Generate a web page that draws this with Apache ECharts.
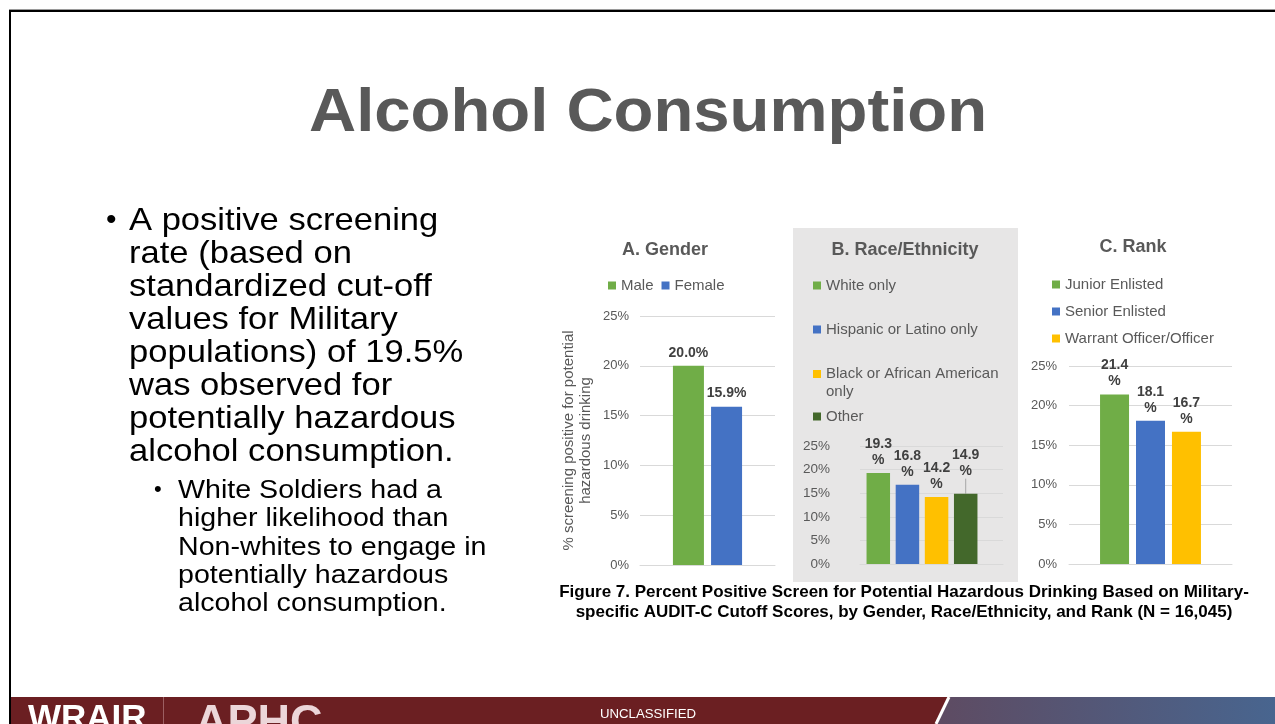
<!DOCTYPE html>
<html>
<head>
<meta charset="utf-8">
<title>Alcohol Consumption</title>
<script src="https://cdn.jsdelivr.net/npm/echarts@6/dist/echarts.min.js"></script>
<style>
  html, body { margin: 0; padding: 0; background: #fff; }
  #chart { width: 1275px; height: 724px; }
</style>
</head>
<body>
<div id="chart"></div>
<script>
// ---- data ----
const genderNames = ['Male', 'Female'];
const genderValues = [20.0, 15.9];

const raceNames = ['White only', 'Hispanic or Latino only', 'Black or African American only', 'Other'];
const raceValues = [19.3, 16.8, 14.2, 14.9];

const rankNames = ['Junior Enlisted', 'Senior Enlisted', 'Warrant Officer/Officer'];
const rankValues = [21.4, 18.1, 16.7];

const yTickMin = 0, yTickMax = 25, yTickStep = 5;

const panelTitles = ['A. Gender', 'B. Race/Ethnicity', 'C. Rank'];
const yAxisTitle = '% screening positive for potential\nhazardous drinking';

const slideTitle = 'Alcohol Consumption';
const bulletMain = [
  'A positive screening',
  'rate (based on',
  'standardized cut-off',
  'values for Military',
  'populations) of 19.5%',
  'was observed for',
  'potentially hazardous',
  'alcohol consumption.'
];
const bulletSub = [
  'White Soldiers had a',
  'higher likelihood than',
  'Non-whites to engage in',
  'potentially hazardous',
  'alcohol consumption.'
];
const captionLines = [
  'Figure 7. Percent Positive Screen for Potential Hazardous Drinking Based on Military-',
  'specific AUDIT-C Cutoff Scores, by Gender, Race/Ethnicity, and Rank (N = 16,045)'
];

// ---- styles ----
const GREEN = '#70AD47', BLUE = '#4472C4', GOLD = '#FFC000', DARKGREEN = '#43682B';
const genderColors = [GREEN, BLUE];
const raceColors = [GREEN, BLUE, GOLD, DARKGREEN];
const rankColors = [GREEN, BLUE, GOLD];
const FONT = '"Liberation Sans", Arial, sans-serif';
const AXIS_TXT = '#595959';
const GRID_LINE = '#D9D9D9';

const pct1 = p => p.value.toFixed(1) + '%';
const pctWrap = p => p.value.toFixed(1) + '\n%';

function valueAxis(gridIndex, extra) {
  return Object.assign({
    type: 'value', gridIndex,
    min: yTickMin, max: yTickMax, interval: yTickStep,
    axisLine: { show: false }, axisTick: { show: false },
    axisLabel: { formatter: '{value}%', color: AXIS_TXT, fontSize: 13, fontFamily: FONT, margin: 11 },
    splitLine: { lineStyle: { color: GRID_LINE, width: 1 } }
  }, extra || {});
}
function catAxis(gridIndex, showLine) {
  return {
    type: 'category', gridIndex, data: [''],
    axisLine: { show: showLine, lineStyle: { color: GRID_LINE } },
    axisTick: { show: false }, axisLabel: { show: false }
  };
}
function barSeries(names, values, colors, axisIdx, width, gap, fmt, lh) {
  return names.map((n, i) => ({
    type: 'bar', name: n, xAxisIndex: axisIdx, yAxisIndex: axisIdx,
    data: [values[i]], barWidth: width, barGap: gap,
    itemStyle: { color: colors[i] },
    label: {
      show: true, position: 'top', distance: 5, formatter: fmt,
      fontFamily: FONT, fontSize: 14, fontWeight: 'bold', color: '#404040', lineHeight: lh
    }
  }));
}

const series = []
  .concat(barSeries(genderNames, genderValues, genderColors, 0, 31, '23%', pct1, 16))
  .concat(barSeries(raceNames, raceValues, raceColors, 1, 23.5, '24%', pctWrap, 16))
  .concat(barSeries(rankNames, rankValues, rankColors, 3, 29, '24%', pctWrap, 16));

// lift the "Other" label and join it to its bar with a leader line
const otherSeries = series.find(s => s.name === 'Other');
otherSeries.labelLayout = { dy: -10 };
otherSeries.labelLine = { show: true, lineStyle: { color: '#A6A6A6', width: 1 } };

const legendText = { fontFamily: FONT, fontSize: 15, color: AXIS_TXT };
const legendBase = { icon: 'rect', itemWidth: 8, itemHeight: 8, padding: 0, selectedMode: false, textStyle: legendText };

// ---- slide graphics ----
function textEl(str, x, y, size, opts) {
  opts = opts || {};
  return {
    type: 'text', x, y, scaleX: opts.scaleX || 1, z: 10,
    style: {
      text: str, x: 0, y: 0,
      fontFamily: opts.family || FONT, fontSize: size, fontWeight: opts.weight || 'normal',
      fill: opts.fill || '#000', align: opts.align || 'left', verticalAlign: 'middle',
      lineHeight: opts.lineHeight
    }
  };
}

const graphics = [
  // shaded panel behind the race/ethnicity chart
  { type: 'rect', z: -1, shape: { x: 793, y: 228, width: 225, height: 354 }, style: { fill: '#E7E6E6' } },
  // slide frame
  { type: 'rect', shape: { x: 9, y: 9, width: 1266, height: 1 }, style: { fill: '#9A9A9A' } },
  { type: 'rect', shape: { x: 9, y: 10, width: 1266, height: 2 }, style: { fill: '#000' } },
  { type: 'rect', shape: { x: 9, y: 10, width: 2, height: 714 }, style: { fill: '#000' } },
  // title
  textEl(slideTitle, 648, 114, 61, { weight: 'bold', fill: '#595959', align: 'center', scaleX: 1.07 }),
  // bullets
  textEl('\u2022', 106, 221, 30, { fill: '#000' }),
  textEl('\u2022', 154, 490, 22, { fill: '#000' }),
  // caption
  textEl(captionLines[0], 904, 592, 17, { weight: 'bold', align: 'center' }),
  textEl(captionLines[1], 904, 612, 17, { weight: 'bold', align: 'center' }),
  // footer band
  { type: 'rect', shape: { x: 11, y: 697, width: 1264, height: 27 }, style: { fill: '#6B1F22' } },
  { type: 'polygon', shape: { points: [[950, 697], [1275, 697], [1275, 724], [937, 724]] },
    style: { fill: new echarts.graphic.LinearGradient(0, 0, 1, 0, [
      { offset: 0, color: '#5E4B62' }, { offset: 1, color: '#48658F' }]) } },
  { type: 'line', shape: { x1: 949, y1: 697, x2: 936, y2: 724 }, style: { stroke: '#fff', lineWidth: 3 } },
  { type: 'line', shape: { x1: 163.5, y1: 697, x2: 163.5, y2: 724 }, style: { stroke: '#9C5F62', lineWidth: 1 } },
  textEl('WRAIR', 28, 719, 35, { weight: 'bold', fill: '#FFFFFF' }),
  textEl('APHC', 195, 724, 45, { weight: 'bold', fill: '#ECD6D9' }),
  textEl('UNCLASSIFIED', 648, 715, 12, { fill: '#FFFFFF', align: 'center', scaleX: 1.1 })
];
bulletMain.forEach((line, i) => graphics.push(textEl(line, 129, 221.5 + i * 33, 32, { scaleX: 1.08 })));
bulletSub.forEach((line, i) => graphics.push(textEl(line, 178, 491 + i * 28.3, 26, { scaleX: 1.1 })));

const option = {
  animation: false,
  backgroundColor: '#FFFFFF',
  textStyle: { fontFamily: FONT },
  title: panelTitles.map((t, i) => ({
    text: t, left: [665, 905, 1133][i], top: [241, 241, 238][i], textAlign: 'center', padding: 0,
    textStyle: { fontFamily: FONT, fontSize: 18, fontWeight: 'bold', color: AXIS_TXT }
  })),
  legend: [
    Object.assign({}, legendBase, { data: genderNames, left: 608, top: 278, itemGap: 8 }),
    Object.assign({}, legendBase, { data: [raceNames[0]], left: 813, top: 278 }),
    Object.assign({}, legendBase, { data: [raceNames[1]], left: 813, top: 322 }),
    // two-line entry; the leading blank line keeps the swatch level with the first text line
    Object.assign({}, legendBase, { data: [raceNames[2]], left: 813, top: 347,
      formatter: name => '\n' + name.replace('American ', 'American\n'),
      textStyle: Object.assign({}, legendText, { lineHeight: 18 }) }),
    Object.assign({}, legendBase, { data: [raceNames[3]], left: 813, top: 409 }),
    Object.assign({}, legendBase, { data: rankNames, left: 1052, top: 277, orient: 'vertical', itemGap: 12 })
  ],
  grid: [
    { left: 640, top: 316, width: 135, height: 249 },
    { left: 860, top: 446, width: 124, height: 118 },
    { left: 860, top: 446, width: 143, height: 118 },
    { left: 1069, top: 366, width: 163, height: 198 }
  ],
  xAxis: [catAxis(0, true), catAxis(1, false), catAxis(2, true), catAxis(3, true)],
  yAxis: [
    valueAxis(0, {
      name: yAxisTitle, nameLocation: 'middle', nameGap: 46, nameRotate: 90,
      nameTextStyle: { fontFamily: FONT, fontSize: 15, color: AXIS_TXT, lineHeight: 17 }
    }),
    valueAxis(1, { splitLine: { show: false },
      axisLabel: { formatter: '{value}%', color: AXIS_TXT, fontSize: 13.5, fontFamily: FONT, margin: 30 } }),
    valueAxis(2, { axisLabel: { show: false } }),
    valueAxis(3, { axisLabel: { formatter: '{value}%', color: AXIS_TXT, fontSize: 13, fontFamily: FONT, margin: 12 } })
  ],
  series,
  graphic: graphics
};

const chart = echarts.init(document.getElementById('chart'), null, { renderer: 'canvas' });
chart.setOption(option);
</script>
</body>
</html>
